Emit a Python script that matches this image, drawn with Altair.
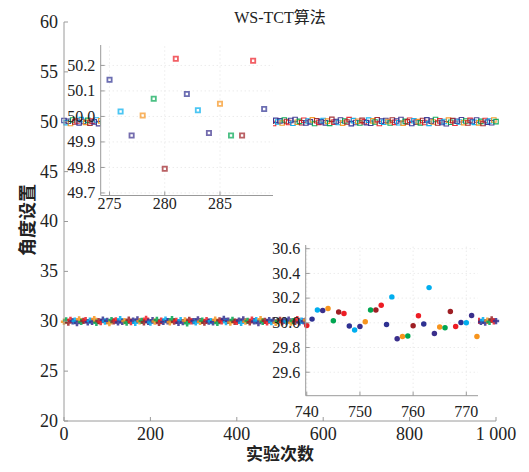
import altair as alt
import pandas as pd

# ---------------- data ----------------
band_x = list(range(0, 1001, 5))
upper_band = [
    50.12, 49.91, 50.05, 49.83, 50.18, 49.97, 50.08, 49.89, 50.21, 50.02,
    49.94, 50.14, 49.86, 50.06, 49.99, 50.17, 49.81, 50.09, 49.95, 50.03,
    50.22, 49.88, 50.01, 49.92, 50.15, 49.84, 50.07, 49.98, 50.19, 49.90,
    50.04, 49.87, 50.13, 49.96, 50.24, 49.82, 50.10, 49.93, 50.00, 50.16,
    49.85, 50.06, 49.97, 50.20, 49.89, 50.11, 49.80, 50.03, 49.94, 50.18,
    50.08, 49.86, 50.14, 49.99, 49.91, 50.23, 49.83, 50.05, 49.96, 50.12,
    49.88, 50.17, 50.02, 49.93, 50.09, 49.85, 50.21, 49.97, 50.04, 49.90,
    50.15, 49.82, 50.07, 49.95, 50.19, 50.01, 49.87, 50.13, 49.92, 50.06,
    49.84, 50.25, 49.98, 50.10, 49.89, 50.03, 49.94, 50.16, 49.81, 50.08,
    50.00, 49.86, 50.20, 49.96, 50.11, 49.91, 50.05, 49.83, 50.14, 49.97,
    50.09, 49.88, 50.18, 50.02, 49.93, 50.12, 49.85, 50.22, 49.95, 50.04,
    49.90, 50.15, 49.87, 50.07, 49.99, 50.19, 49.82, 50.10, 49.94, 50.01,
    50.13, 49.89, 50.06, 49.84, 50.24, 49.96, 50.03, 49.92, 50.17, 49.86,
    50.08, 49.98, 50.21, 49.81, 50.11, 49.93, 50.05, 49.88, 50.14, 50.00,
    49.91, 50.16, 49.85, 50.09, 49.97, 50.20, 49.83, 50.06, 49.95, 50.12,
    50.02, 49.87, 50.18, 49.94, 50.07, 49.90, 50.23, 49.86, 50.04, 49.99,
    50.15, 49.82, 50.10, 49.96, 50.01, 49.89, 50.13, 49.92, 50.19, 49.84,
    50.06, 49.97, 50.22, 49.88, 50.09, 49.93, 50.03, 49.80, 50.16, 49.95,
    50.11, 49.85, 50.05, 49.98, 50.20, 49.91, 50.08, 49.87, 50.14, 50.02,
    49.94, 50.17, 49.89, 50.04, 49.83, 50.12, 49.96, 50.07, 49.90, 50.18,
    50.01,
]
lower_band = [
    29.96, 30.08, 29.87, 30.14, 29.99, 30.05, 29.82, 30.19, 29.93, 30.03,
    30.11, 29.89, 30.06, 29.95, 30.22, 29.85, 30.01, 29.92, 30.16, 29.97,
    30.04, 29.81, 30.12, 29.98, 30.09, 29.88, 30.20, 29.94, 30.02, 29.86,
    30.15, 29.91, 30.07, 29.84, 30.18, 29.99, 30.03, 29.90, 30.24, 29.95,
    29.87, 30.10, 29.97, 30.13, 29.83, 30.06, 29.93, 30.17, 30.00, 29.89,
    30.21, 29.96, 30.04, 29.85, 30.11, 29.92, 30.08, 29.80, 30.14, 29.98,
    30.02, 29.88, 30.19, 29.94, 30.06, 29.86, 30.12, 29.97, 30.01, 29.90,
    30.16, 29.83, 30.09, 29.99, 30.23, 29.91, 30.05, 29.87, 30.13, 29.95,
    29.93, 30.07, 29.84, 30.18, 29.96, 30.03, 29.89, 30.15, 29.98, 30.10,
    29.82, 30.20, 29.95, 30.04, 29.88, 30.12, 29.92, 30.08, 29.85, 30.01,
    30.14, 29.90, 30.06, 29.97, 30.17, 29.86, 30.02, 29.94, 30.22, 29.88,
    30.05, 29.99, 30.11, 29.81, 30.09, 29.93, 30.16, 29.96, 30.03, 29.87,
    30.19, 29.92, 30.07, 29.84, 30.13, 29.98, 30.04, 29.89, 30.10, 29.95,
    30.00, 29.86, 30.21, 29.91, 30.06, 29.97, 30.15, 29.83, 30.08, 29.94,
    30.12, 29.88, 30.02, 29.99, 30.18, 29.85, 30.05, 29.92, 30.24, 29.96,
    30.03, 29.90, 30.14, 29.87, 30.09, 29.95, 30.01, 29.82, 30.17, 29.98,
    30.07, 29.93, 30.11, 29.89, 30.20, 29.96, 30.04, 29.86, 30.13, 29.91,
    30.06, 29.99, 30.16, 29.84, 30.10, 29.94, 30.02, 29.88, 30.19, 29.97,
    30.01, 29.85, 30.12, 29.92, 30.08, 29.96, 30.23, 29.90, 30.05, 29.87,
    30.15, 29.98, 30.03, 29.93, 30.11, 29.86, 30.07, 29.95, 30.18, 29.99,
    30.02,
]

inset1_x = list(range(275, 290))
inset1_y = [50.144, 50.019, 49.925, 50.004, 50.069, 49.795, 50.226, 50.088,
            50.024, 49.935, 50.050, 49.925, 49.925, 50.218, 50.029]

inset2_x = list(range(740, 773))
inset2_y = [29.979, 30.030, 30.103, 30.100, 30.116, 30.017, 30.087, 30.076,
            29.974, 29.941, 29.971, 30.009, 30.103, 30.103, 30.143, 29.987,
            30.210, 29.871, 29.890, 29.893, 29.976, 30.057, 29.990, 30.285,
            29.914, 29.966, 29.960, 30.092, 29.971, 30.003, 30.000, 30.060,
            29.890]

main_x_ticks = [0, 200, 400, 600, 800, 1000]
main_x_labels = ["0", "200", "400", "600", "800", "1 000"]
main_y_ticks = [20, 25, 30, 35, 40, 45, 50, 55, 60]
main_y_labels = ["20", "25", "30", "35", "40", "45", "50", "55", "60"]
inset1_x_ticks = [275, 280, 285]
inset1_x_labels = ["275", "280", "285"]
inset1_y_ticks = [49.7, 49.8, 49.9, 50.0, 50.1, 50.2]
inset1_y_labels = ["49.7", "49.8", "49.9", "50.0", "50.1", "50.2"]
inset2_x_ticks = [740, 750, 760, 770]
inset2_x_labels = ["740", "750", "760", "770"]
inset2_y_ticks = [29.6, 29.8, 30.0, 30.2, 30.4, 30.6]
inset2_y_labels = ["29.6", "29.8", "30.0", "30.2", "30.4", "30.6"]

title_text = "WS-TCT算法"
x_title = "实验次数"
y_title = "角度设置"

palette = ["#2E3192", "#00AEEF", "#3A2F8C", "#F7941D", "#00A651", "#9E1F24", "#ED1C24"]
groups = [str(i) for i in range(7)]

# ---------------- layout ----------------
W, H = 432, 399
SERIF = "Liberation Serif"
CJK = "Liberation Serif, Noto Sans CJK SC"
AX = "#9a9a9a"
TXT = "#222222"
GRID = "#e2e2e2"

color_enc = alt.Color("c:N", scale=alt.Scale(domain=groups, range=palette), legend=None)


def axis_layers(sx, sy, dom_x, dom_y, xt, xl, yt, yl, bottom_px, left_px,
                xlab_y, ylab_dx, fsize, grid):
    """Axis lines, inward ticks, labels (and optional grid) drawn through scales."""
    X = lambda f: alt.X(f, scale=sx, axis=None)
    Y = lambda f: alt.Y(f, scale=sy, axis=None)
    layers = []
    if grid:
        layers.append(alt.Chart(pd.DataFrame({"x": xt, "y": [dom_y[0]] * len(xt),
                                              "y2": [dom_y[1]] * len(xt)}))
                      .mark_rule(color=GRID, strokeDash=[1, 3], strokeWidth=1)
                      .encode(x=X("x:Q"), y=Y("y:Q"), y2="y2"))
        layers.append(alt.Chart(pd.DataFrame({"y": yt, "x": [dom_x[0]] * len(yt),
                                              "x2": [dom_x[1]] * len(yt)}))
                      .mark_rule(color=GRID, strokeDash=[1, 3], strokeWidth=1)
                      .encode(y=Y("y:Q"), x=X("x:Q"), x2="x2"))
    # domain lines
    layers.append(alt.Chart(pd.DataFrame({"x": [dom_x[0]], "x2": [dom_x[1]], "y": [dom_y[0]]}))
                  .mark_rule(color=AX, strokeWidth=1).encode(x=X("x:Q"), x2="x2", y=Y("y:Q")))
    layers.append(alt.Chart(pd.DataFrame({"y": [dom_y[0]], "y2": [dom_y[1]], "x": [dom_x[0]]}))
                  .mark_rule(color=AX, strokeWidth=1).encode(y=Y("y:Q"), y2="y2", x=X("x:Q")))
    # inward ticks
    layers.append(alt.Chart(pd.DataFrame({"x": xt})).mark_rule(color=AX).encode(
        x=X("x:Q"), y=alt.value(bottom_px), y2=alt.value(bottom_px - 4)))
    layers.append(alt.Chart(pd.DataFrame({"y": yt})).mark_rule(color=AX).encode(
        y=Y("y:Q"), x=alt.value(left_px), x2=alt.value(left_px + 4)))
    # labels
    layers.append(alt.Chart(pd.DataFrame({"x": xt, "t": xl}))
                  .mark_text(font=SERIF, fontSize=fsize, color=TXT, align="center",
                             baseline="alphabetic")
                  .encode(x=X("x:Q"), y=alt.value(xlab_y), text="t:N"))
    layers.append(alt.Chart(pd.DataFrame({"y": yt, "t": yl}))
                  .mark_text(font=SERIF, fontSize=fsize, color=TXT, align="right",
                             baseline="alphabetic", dy=fsize * 0.33)
                  .encode(y=Y("y:Q"), x=alt.value(left_px - ylab_dx), text="t:N"))
    return layers


# ---------------- main panel ----------------
up_df = pd.DataFrame({"x": band_x, "y": upper_band,
                      "c": [groups[i % 7] for i in range(len(band_x))]})
lo_df = pd.DataFrame({"x": band_x, "y": lower_band,
                      "c": [groups[(i + 3) % 7] for i in range(len(band_x))]})

xs = alt.Scale(domain=[0, 1000], nice=False, zero=False)
ys = alt.Scale(domain=[20, 60], nice=False, zero=False)

upper_pts = alt.Chart(up_df).mark_square(filled=False, size=20, strokeWidth=1.1,
                                         opacity=0.9).encode(
    x=alt.X("x:Q", scale=xs, axis=None),
    y=alt.Y("y:Q", scale=ys, axis=None),
    color=color_enc,
)
lower_pts = alt.Chart(lo_df).mark_point(filled=True, shape="cross", size=40,
                                        opacity=0.85).encode(
    x=alt.X("x:Q", scale=xs, axis=None),
    y=alt.Y("y:Q", scale=ys, axis=None),
    color=color_enc,
)

title_mark = alt.Chart(pd.DataFrame({"t": [title_text]})).mark_text(
    font=CJK, fontSize=16, color=TXT, align="center", baseline="alphabetic").encode(
    x=alt.value(W / 2), y=alt.value(0.5), text="t:N")
xt_mark = alt.Chart(pd.DataFrame({"t": [x_title]})).mark_text(
    font=CJK, fontSize=17, fontWeight="bold", color=TXT, align="center",
    baseline="middle").encode(x=alt.value(W / 2), y=alt.value(H + 33.5), text="t:N")
yt_mark = alt.Chart(pd.DataFrame({"t": [y_title]})).mark_text(
    font=CJK, fontSize=18, fontWeight="bold", color=TXT, align="center",
    baseline="middle", angle=270).encode(x=alt.value(-35), y=alt.value(198), text="t:N")

main = alt.layer(
    upper_pts, lower_pts,
    *axis_layers(xs, ys, [0, 1000], [20, 60], main_x_ticks, main_x_labels,
                 main_y_ticks, main_y_labels, H, 0, H + 19, 6, 18, False),
    title_mark, xt_mark, yt_mark,
)


# ---------------- insets ----------------
def make_inset(dom_x, rng_x, dom_y, rng_y, xt, xl, yt, yl, pts_x, pts_y,
               colors, mark, xlab_dy):
    sx = alt.Scale(domain=dom_x, range=rng_x, nice=False, zero=False)
    sy = alt.Scale(domain=dom_y, range=rng_y, nice=False, zero=False)
    bg = alt.Chart(pd.DataFrame({"x": [dom_x[0]], "x2": [dom_x[1]],
                                 "y": [dom_y[0]], "y2": [dom_y[1]]})).mark_rect(
        fill="white").encode(
        x=alt.X("x:Q", scale=sx, axis=None), x2="x2",
        y=alt.Y("y:Q", scale=sy, axis=None), y2="y2")
    df = pd.DataFrame({"x": pts_x, "y": pts_y, "c": colors})
    pts = mark(alt.Chart(df)).encode(
        x=alt.X("x:Q", scale=sx, axis=None),
        y=alt.Y("y:Q", scale=sy, axis=None),
        color=color_enc)
    axes = axis_layers(sx, sy, dom_x, dom_y, xt, xl, yt, yl, rng_y[0], rng_x[0],
                       rng_y[0] + xlab_dy, 5.5, 16, True)
    return alt.layer(bg, *axes[:2], pts, *axes[2:])


inset1 = make_inset(
    [274.2, 289.8], [36.7, 209.0], [49.69, 50.28], [173.5, 23.0],
    inset1_x_ticks, inset1_x_labels, inset1_y_ticks, inset1_y_labels,
    inset1_x, inset1_y,
    [groups[(v - 275) % 7] for v in inset1_x],
    lambda c: c.mark_square(filled=False, size=18, strokeWidth=1.8), 13.5)

inset2 = make_inset(
    [739.8, 772.2], [241.7, 414.0], [29.41, 30.63], [373.7, 223.0],
    inset2_x_ticks, inset2_x_labels, inset2_y_ticks, inset2_y_labels,
    inset2_x, inset2_y,
    [groups[(v - 741) % 7] for v in inset2_x],
    lambda c: c.mark_circle(size=30, opacity=1), 21)

chart = alt.layer(main, inset1, inset2).resolve_scale(
    x="independent", y="independent"
).properties(
    width=W, height=H,
    padding={"left": 56, "top": 14, "right": 25, "bottom": 43},
    autosize=alt.AutoSizeParams(type="none"),
).configure_view(stroke=None)

chart.save("out.html", embed_options={"renderer": "svg", "actions": False})
